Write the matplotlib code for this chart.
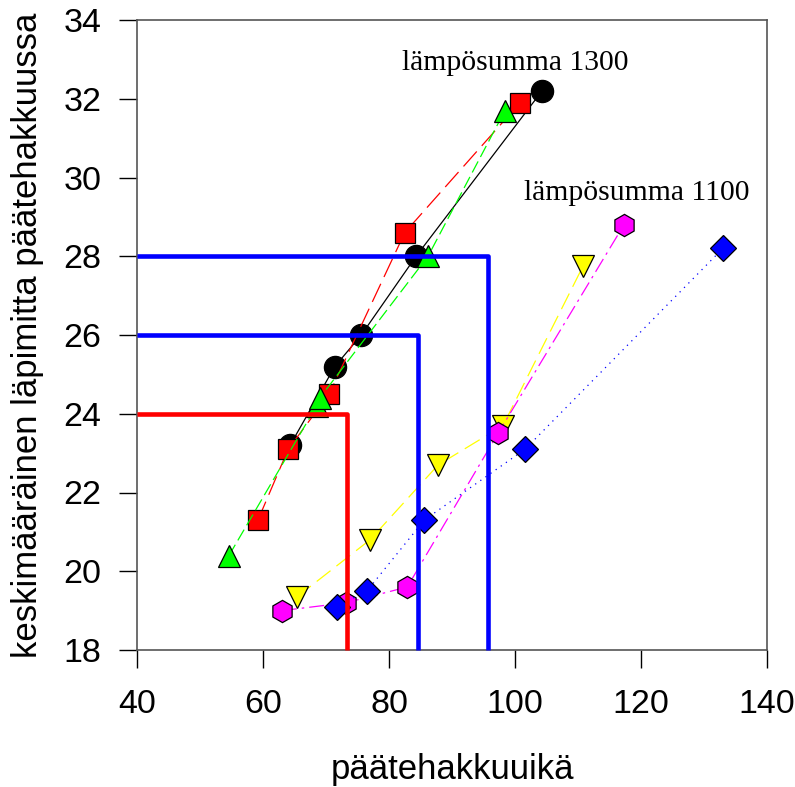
import matplotlib
matplotlib.use('Agg')
import matplotlib.pyplot as plt

# lämpösumma 1300
age_circle = [64.3, 71.4, 75.6, 84.3, 104.3]
d_circle = [23.2, 25.2, 26.0, 28.0, 32.2]
age_square = [59.2, 64.0, 70.5, 82.5, 100.8]
d_square = [21.3, 23.1, 24.5, 28.6, 31.9]
age_tri = [54.6, 68.5, 69.0, 86.2, 98.4]
d_tri = [20.4, 24.2, 24.4, 28.0, 31.7]

# lämpösumma 1100
age_tridown = [65.4, 77.0, 87.8, 98.1, 110.8]
d_tridown = [19.35, 20.8, 22.7, 23.7, 27.75]
age_hex = [63.0, 73.2, 82.9, 97.3, 117.3]
d_hex = [19.0, 19.2, 19.6, 23.5, 28.8]
age_diam = [71.7, 76.5, 85.6, 101.6, 133.0]
d_diam = [19.1, 19.5, 21.3, 23.1, 28.2]

# luku-viivat (läpimitta -> ikä)
guide_d = [24, 26, 28]
guide_age = [73.3, 84.6, 95.7]
guide_col = ['#ff0000', '#0000ff', '#0000ff']

xticks = [40, 60, 80, 100, 120, 140]
yticks = [18, 20, 22, 24, 26, 28, 30, 32, 34]

plt.rcParams['font.family'] = ['Liberation Sans', 'DejaVu Sans']

fig = plt.figure(figsize=(7.95, 7.87), dpi=100)
ax = fig.add_axes([137/795, 137/787, 630/795, 630/787])

mk = dict(markeredgecolor='black', markeredgewidth=0.9, zorder=3)

ax.plot(age_circle, d_circle, color='black', lw=0.9, marker='o', markersize=16,
        markerfacecolor='black', **mk)
ax.plot(age_square, d_square, color='#ff0000', lw=0.9, dashes=(16, 6), marker='s',
        markersize=14, markerfacecolor='#ff0000', **mk)
ax.plot(age_tri, d_tri, color='#00ff00', lw=0.9, dashes=(10, 4), marker='^',
        markersize=16, markerfacecolor='#00ff00', **mk)

ax.plot(age_tridown, d_tridown, color='#ffff00', lw=0.9, dashes=(14, 6), marker='v',
        markersize=16, markerfacecolor='#ffff00', **mk)
ax.plot(age_hex, d_hex, color='#ff00ff', lw=0.9, dashes=(12, 4, 2, 4), marker='h',
        markersize=16, markerfacecolor='#ff00ff', **mk)
ax.plot(age_diam, d_diam, color='#0000ff', lw=0.9, dashes=(1, 4), marker='D',
        markersize=13.5, markerfacecolor='#0000ff', **mk)

for d, a, c in zip(guide_d, guide_age, guide_col):
    ax.plot([40, a, a], [d, d, 18], color=c, lw=3.3, solid_joinstyle='round',
            solid_capstyle='butt', zorder=4, clip_on=False)

ax.text(82.1, 32.9, 'lämpösumma 1300', family='Liberation Serif', fontsize=21.3,
        va='center', ha='left')
ax.text(101.4, 29.6, 'lämpösumma 1100', family='Liberation Serif', fontsize=21.3,
        va='center', ha='left')

ax.set_xlim(40, 140)
ax.set_ylim(18, 34)
ax.set_xticks(xticks)
ax.set_yticks(yticks)
ax.tick_params(direction='out', length=13, width=1, labelsize=24.5,
               top=False, right=False)
ax.tick_params(axis='x', pad=15)
ax.tick_params(axis='y', pad=12.5)
for s in ax.spines.values():
    s.set_color('#555555')
    s.set_linewidth(1.2)

ax.set_xlabel('päätehakkuuikä', fontsize=25, labelpad=24)
ax.set_ylabel('keskimääräinen läpimitta päätehakkuussa', fontsize=25, labelpad=14)

fig.savefig('out.png', dpi=100)
